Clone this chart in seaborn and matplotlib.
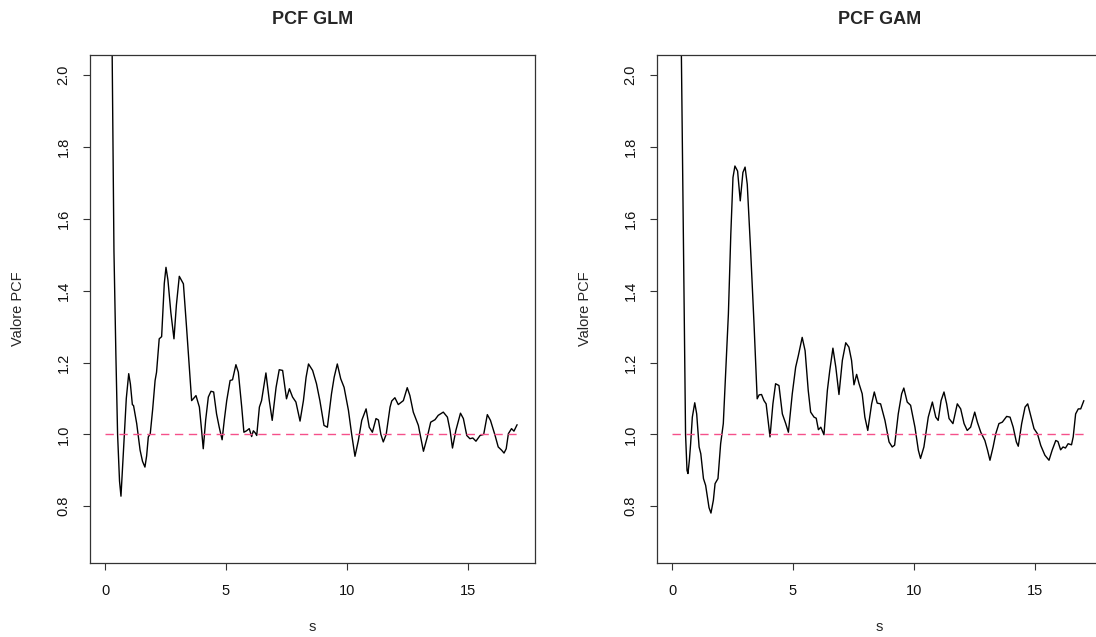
import pandas as pd
import matplotlib
matplotlib.use("Agg")
import matplotlib.pyplot as plt
import seaborn as sns

# Valori: PCF GLM
s_glm = [0.25, 0.37, 0.45, 0.52, 0.60, 0.66, 0.72, 0.80, 0.88, 0.98, 1.05, 1.13, 1.18, 1.31,
         1.45, 1.55, 1.65, 1.72, 1.79, 1.87, 1.97, 2.07, 2.13, 2.24, 2.34, 2.45, 2.52, 2.60,
         2.72, 2.85, 2.95, 3.07, 3.15, 3.24, 3.37, 3.48, 3.58, 3.66, 3.76, 3.90, 3.98, 4.06,
         4.16, 4.27, 4.38, 4.49, 4.61, 4.72, 4.84, 4.93, 5.03, 5.17, 5.27, 5.41, 5.51, 5.65,
         5.74, 5.85, 5.96, 6.06, 6.13, 6.20, 6.27, 6.38, 6.47, 6.65, 6.79, 6.91, 7.07, 7.20,
         7.34, 7.50, 7.62, 7.75, 7.89, 8.06, 8.20, 8.31, 8.41, 8.58, 8.74, 8.88, 9.05, 9.19,
         9.36, 9.47, 9.60, 9.74, 9.88, 10.06, 10.19, 10.33, 10.47, 10.61, 10.79, 10.92, 11.05,
         11.20, 11.30, 11.40, 11.50, 11.62, 11.78, 11.85, 11.98, 12.12, 12.33, 12.49, 12.60,
         12.74, 12.95, 13.16, 13.32, 13.46, 13.64, 13.77, 13.98, 14.15, 14.26, 14.36, 14.50,
         14.69, 14.81, 14.95, 15.08, 15.20, 15.33, 15.50, 15.65, 15.80, 15.93, 16.12, 16.25,
         16.39, 16.49, 16.58, 16.67, 16.80, 16.90, 17.03]
pcf_glm = [2.40, 1.51, 1.22, 1.00, 0.87, 0.828, 0.90, 1.00, 1.10, 1.169, 1.14, 1.083, 1.08, 1.03,
           0.956, 0.925, 0.909, 0.94, 0.993, 1.002, 1.07, 1.15, 1.173, 1.266, 1.272, 1.42, 1.465, 1.43,
           1.34, 1.266, 1.36, 1.44, 1.43, 1.419, 1.298, 1.19, 1.094, 1.10, 1.108, 1.076, 1.02, 0.96,
           1.04, 1.104, 1.12, 1.118, 1.057, 1.02, 0.985, 1.04, 1.094, 1.15, 1.152, 1.194, 1.173, 1.076,
           1.006, 1.01, 1.016, 0.994, 1.01, 1.005, 0.997, 1.076, 1.094, 1.171, 1.094, 1.039, 1.131, 1.18,
           1.178, 1.099, 1.127, 1.104, 1.09, 1.037, 1.094, 1.159, 1.196, 1.178, 1.141, 1.094, 1.025, 1.02,
           1.113, 1.159, 1.196, 1.155, 1.131, 1.067, 1.002, 0.939, 0.983, 1.039, 1.071, 1.02, 1.006,
           1.044, 1.04, 1.00, 0.979, 1.00, 1.076, 1.093, 1.102, 1.083, 1.094, 1.13, 1.108,
           1.062, 1.025, 0.953, 0.993, 1.034, 1.041, 1.053, 1.062, 1.048, 1.011, 0.962, 1.011,
           1.059, 1.044, 0.997, 0.988, 0.99, 0.981, 0.997, 1.00, 1.055, 1.039, 0.997, 0.965,
           0.956, 0.948, 0.96, 1.002, 1.016, 1.009, 1.027]

# Valori: PCF GAM
s_gam = [0.30, 0.43, 0.50, 0.56, 0.62, 0.66, 0.72, 0.77, 0.84, 0.94, 1.02, 1.12, 1.19, 1.30,
         1.39, 1.53, 1.61, 1.71, 1.78, 1.90, 2.01, 2.12, 2.22, 2.33, 2.43, 2.52, 2.60, 2.71,
         2.82, 2.93, 3.02, 3.11, 3.25, 3.39, 3.52, 3.60, 3.70, 3.80, 3.89, 4.05, 4.17, 4.28,
         4.42, 4.56, 4.70, 4.81, 4.97, 5.11, 5.22, 5.38, 5.50, 5.63, 5.73, 5.87, 5.96, 6.05,
         6.15, 6.28, 6.42, 6.52, 6.65, 6.77, 6.90, 7.04, 7.18, 7.31, 7.42, 7.52, 7.63, 7.73,
         7.86, 7.97, 8.09, 8.25, 8.36, 8.48, 8.62, 8.80, 8.97, 9.10, 9.20, 9.35, 9.49, 9.58,
         9.72, 9.86, 10.04, 10.18, 10.27, 10.41, 10.59, 10.76, 10.90, 11.00, 11.12, 11.24,
         11.35, 11.45, 11.61, 11.79, 11.93, 12.07, 12.20, 12.34, 12.51, 12.62, 12.76, 12.93,
         13.04, 13.14, 13.27, 13.38, 13.51, 13.65, 13.83, 13.97, 14.10, 14.23, 14.31, 14.45,
         14.59, 14.70, 14.82, 14.96, 15.10, 15.24, 15.41, 15.58, 15.71, 15.86, 15.95, 16.06,
         16.16, 16.26, 16.37, 16.51, 16.58, 16.68, 16.79, 16.89, 17.02]
pcf_gam = [2.60, 1.79, 1.35, 1.00, 0.90, 0.891, 0.93, 0.974, 1.048, 1.088, 1.057, 0.965, 0.946, 0.877,
           0.858, 0.796, 0.781, 0.817, 0.863, 0.877, 0.974, 1.03, 1.178, 1.335, 1.557, 1.715, 1.747, 1.733,
           1.65, 1.729, 1.744, 1.696, 1.511, 1.307, 1.099, 1.11, 1.111, 1.094, 1.085, 0.993, 1.085, 1.141,
           1.136, 1.057, 1.03, 1.006, 1.113, 1.187, 1.219, 1.27, 1.233, 1.122, 1.062, 1.048, 1.045, 1.013,
           1.02, 0.999, 1.122, 1.178, 1.24, 1.187, 1.111, 1.206, 1.255, 1.243, 1.206, 1.138, 1.167, 1.141,
           1.113, 1.048, 1.011, 1.085, 1.118, 1.087, 1.085, 1.039, 0.979, 0.965, 0.97, 1.057, 1.113, 1.129,
           1.09, 1.081, 1.02, 0.956, 0.933, 0.965, 1.048, 1.09, 1.048, 1.039, 1.094, 1.118,
           1.085, 1.044, 1.03, 1.085, 1.071, 1.03, 1.011, 1.02, 1.062, 1.034, 1.006, 0.983,
           0.956, 0.928, 0.965, 1.002, 1.03, 1.034, 1.05, 1.048, 1.02, 0.979, 0.967, 1.03,
           1.076, 1.085, 1.053, 1.016, 1.002, 0.969, 0.942, 0.928, 0.956, 0.983, 0.98, 0.957,
           0.965, 0.962, 0.974, 0.971, 0.993, 1.057, 1.071, 1.071, 1.094]

s_ref = [0.0, 17.03]
ref_val = [1.0, 1.0]
x_ticks = [0, 5, 10, 15]
y_ticks = [0.8, 1.0, 1.2, 1.4, 1.6, 1.8, 2.0]
titles = ["PCF GLM", "PCF GAM"]

sns.set_theme(style="white")
plt.rcParams['font.family'] = ['Liberation Sans', 'DejaVu Sans']

W, H = 1096, 637
fig = plt.figure(figsize=(W / 100, H / 100), dpi=100)

# posizioni dei pannelli in pixel (sinistra, alto, larghezza, altezza)
pannelli = [(90, 55, 445, 508), (657, 55, 445, 508)]
dati = [(s_glm, pcf_glm), (s_gam, pcf_gam)]

for (px, py, pw, ph), (s, v), titolo in zip(pannelli, dati, titles):
    ax = fig.add_axes([px / W, 1 - (py + ph) / H, pw / W, ph / H])
    df = pd.DataFrame({"s": s, "pcf": v})
    df_ref = pd.DataFrame({"s": s_ref, "pcf": ref_val})
    sns.lineplot(data=df, x="s", y="pcf", color="black", linewidth=1.0,
                 sort=False, ax=ax)
    sns.lineplot(data=df_ref, x="s", y="pcf", color="#F5508A", linewidth=1.0,
                 ax=ax, dashes=False, linestyle=(0, (6, 4)))

    ax.set_xlim(-0.62, 17.77)
    ax.set_ylim(0.642, 2.056)
    ax.set_xticks(x_ticks)
    ax.set_xticklabels([str(t) for t in x_ticks])
    ax.set_yticks(y_ticks)
    ax.set_yticklabels([f"{t:.1f}" for t in y_ticks], rotation=90, va="center")
    ax.tick_params(axis="both", direction="out", length=5, width=0.8,
                   color="#333333", labelsize=10.5, labelcolor="#111111",
                   bottom=True, left=True)
    ax.tick_params(axis="x", pad=10)
    ax.tick_params(axis="y", pad=9)
    for sp in ax.spines.values():
        sp.set_visible(True)
        sp.set_color("#333333")
        sp.set_linewidth(0.9)

    ax.set_title(titolo, fontsize=13, fontweight="bold", pad=22)
    ax.set_xlabel("s", fontsize=10.5)
    ax.set_ylabel("Valore PCF", fontsize=10.5)
    ax.xaxis.set_label_coords(0.5, -64 / ph)
    ax.xaxis.label.set_va("center")
    ax.yaxis.set_label_coords(-72 / pw, 0.5)
    ax.yaxis.label.set_va("center")
    ax.grid(False)

plt.savefig("out.png", dpi=100)
